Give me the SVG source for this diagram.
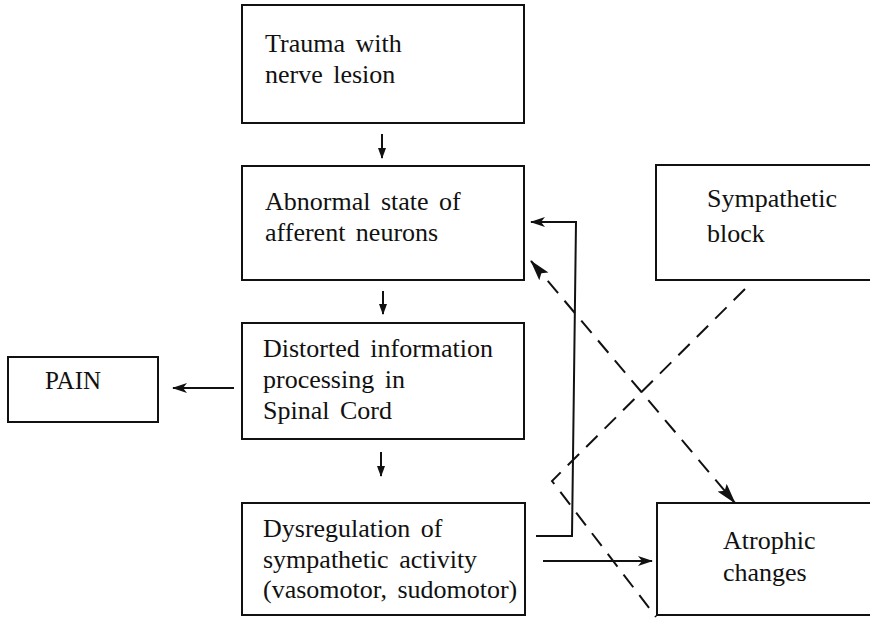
<svg xmlns="http://www.w3.org/2000/svg" width="870" height="618" viewBox="0 0 870 618">
<style>
  .box { fill: #fff; stroke: #111; stroke-width: 2; }
  .t { font-family: "Liberation Serif", "Times New Roman", serif; font-size: 26px; fill: #111; word-spacing: 4px; }
  .ln { fill: none; stroke: #111; stroke-width: 2; }
  .dash { fill: none; stroke: #111; stroke-width: 2; stroke-dasharray: 16 10; }
</style>
<defs>
  <marker id="ah" markerUnits="userSpaceOnUse" markerWidth="16" markerHeight="12" refX="14" refY="5" orient="auto">
    <path d="M0,0 L15,5 L0,10 L4,5 Z" fill="#111"/>
  </marker>
  <marker id="ahs" markerUnits="userSpaceOnUse" markerWidth="12" markerHeight="10" refX="10" refY="4" orient="auto">
    <path d="M0,0 L11,4 L0,8 Z" fill="#111"/>
  </marker>
  <marker id="ahd" markerUnits="userSpaceOnUse" markerWidth="22" markerHeight="14" refX="20" refY="6" orient="auto">
    <path d="M0,0 L21,6 L0,12 L4,6 Z" fill="#111"/>
  </marker>
  <marker id="ahdStart" markerUnits="userSpaceOnUse" markerWidth="22" markerHeight="14" refX="1" refY="6" orient="auto">
    <path d="M21,0 L0,6 L21,12 L17,6 Z" fill="#111"/>
  </marker>
</defs>

<g id="trauma">
  <rect class="box" x="242" y="5" width="282" height="118"/>
  <text class="t" x="265" y="52">Trauma with</text>
  <text class="t" x="265" y="83">nerve lesion</text>
</g>
<g id="abnormal">
  <rect class="box" x="242" y="166" width="282" height="114"/>
  <text class="t" x="265" y="210">Abnormal state of</text>
  <text class="t" x="265" y="241">afferent neurons</text>
</g>
<g id="distorted">
  <rect class="box" x="242" y="323" width="282" height="116"/>
  <text class="t" x="263" y="357">Distorted information</text>
  <text class="t" x="263" y="388">processing in</text>
  <text class="t" x="263" y="419">Spinal Cord</text>
</g>
<g id="pain">
  <rect class="box" x="8" y="357" width="150" height="65"/>
  <text class="t" x="45" y="389" style="font-size:25px">PAIN</text>
</g>
<g id="dysregulation">
  <rect class="box" x="242" y="503" width="283" height="112"/>
  <text class="t" x="263" y="537">Dysregulation of</text>
  <text class="t" x="263" y="568">sympathetic activity</text>
  <text class="t" x="263" y="598">(vasomotor, sudomotor)</text>
</g>
<g id="sympathetic-block">
  <rect class="box" x="656" y="165" width="230" height="115"/>
  <text class="t" x="707" y="207">Sympathetic</text>
  <text class="t" x="707" y="242">block</text>
</g>
<g id="atrophic">
  <rect class="box" x="657" y="503" width="230" height="112"/>
  <text class="t" x="723" y="549">Atrophic</text>
  <text class="t" x="723" y="581">changes</text>
</g>

<g id="connectors">
  <line class="ln" x1="382" y1="134" x2="382" y2="158" marker-end="url(#ahs)"/>
  <line class="ln" x1="383" y1="291" x2="383" y2="314" marker-end="url(#ahs)"/>
  <line class="ln" x1="381" y1="452" x2="381" y2="476" marker-end="url(#ahs)"/>
  <line class="ln" x1="234" y1="388" x2="173" y2="388" marker-end="url(#ah)"/>
  <polyline class="ln" points="536,536 572,536 576,222 531,222" marker-end="url(#ah)"/>
  <line class="ln" x1="543" y1="561" x2="652" y2="561" marker-end="url(#ah)"/>
  <line class="dash" x1="531" y1="261" x2="735" y2="503" marker-start="url(#ahdStart)" marker-end="url(#ahd)"/>
  <polyline class="dash" points="745,289 552,481 656,617"/>
</g>
</svg>
